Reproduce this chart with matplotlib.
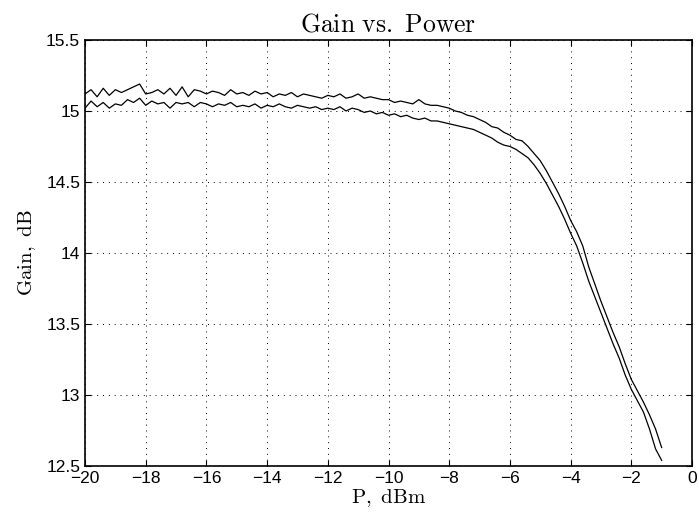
import numpy as np
import matplotlib
matplotlib.use("Agg")
import matplotlib.pyplot as plt

plt.rcParams['mathtext.fontset'] = 'cm'
plt.rcParams['font.family'] = ['Liberation Sans', 'DejaVu Sans']

# gain readings (dB), input power from -20 to -1 dBm in 0.2 dB steps
gain_upper = [15.12, 15.15, 15.10, 15.16, 15.11, 15.15, 15.13, 15.15, 15.17, 15.19,
              15.12, 15.13, 15.15, 15.12, 15.16, 15.11, 15.17, 15.10, 15.15, 15.14,
              15.12, 15.14, 15.13, 15.11, 15.15, 15.12, 15.13, 15.11, 15.14, 15.12,
              15.13, 15.10, 15.12, 15.11, 15.13, 15.10, 15.12, 15.11, 15.10, 15.09,
              15.11, 15.10, 15.12, 15.09, 15.10, 15.12, 15.09, 15.10, 15.09, 15.08,
              15.08, 15.06, 15.07, 15.06, 15.05, 15.08, 15.05, 15.04, 15.04, 15.03,
              15.02, 15.00, 14.99, 14.97, 14.96, 14.94, 14.92, 14.89, 14.88, 14.85,
              14.83, 14.80, 14.79, 14.75, 14.70, 14.65, 14.58, 14.50, 14.42, 14.33,
              14.23, 14.15, 14.05, 13.90, 13.78, 13.66, 13.55, 13.44, 13.34, 13.22,
              13.11, 13.03, 12.95, 12.86, 12.76, 12.63]
gain_lower = [15.02, 15.07, 15.03, 15.06, 15.02, 15.05, 15.04, 15.08, 15.06, 15.09,
              15.04, 15.07, 15.05, 15.06, 15.02, 15.06, 15.05, 15.06, 15.03, 15.06,
              15.05, 15.03, 15.05, 15.04, 15.06, 15.03, 15.04, 15.03, 15.05, 15.02,
              15.04, 15.03, 15.05, 15.03, 15.02, 15.04, 15.03, 15.02, 15.03, 15.01,
              15.02, 15.01, 15.03, 15.00, 15.02, 15.01, 14.99, 15.00, 14.98, 14.99,
              14.97, 14.98, 14.96, 14.97, 14.95, 14.94, 14.95, 14.93, 14.93, 14.92,
              14.91, 14.90, 14.89, 14.88, 14.87, 14.85, 14.83, 14.81, 14.78, 14.76,
              14.75, 14.73, 14.70, 14.67, 14.62, 14.56, 14.49, 14.41, 14.33, 14.24,
              14.14, 14.05, 13.93, 13.80, 13.69, 13.58, 13.47, 13.36, 13.26, 13.14,
              13.04, 12.96, 12.88, 12.76, 12.62, 12.54]
power = np.linspace(-20, -1, len(gain_upper))

xticks = [-20, -18, -16, -14, -12, -10, -8, -6, -4, -2, 0]
yticks = [12.5, 13, 13.5, 14, 14.5, 15, 15.5]

fig = plt.figure(figsize=(6.99, 5.19), dpi=100)
ax = fig.add_axes([85/699, 53/519, 607/699, 426/519])

ax.plot(power, gain_upper, color='k', lw=0.9)
ax.plot(power, gain_lower, color='k', lw=0.9)

ax.set_xlim(-20, 0)
ax.set_ylim(12.5, 15.5)
ax.set_xticks(xticks)
ax.set_yticks(yticks)
ax.set_xticklabels([str(t).replace('-', '\u2212') for t in xticks])
ax.set_yticklabels(['12.5', '13', '13.5', '14', '14.5', '15', '15.5'])
ax.tick_params(direction='in', top=True, right=True, labelsize=12.5, length=4, width=0.8)
ax.grid(True, color='k', linestyle=(0, (1, 5)), linewidth=0.7)
for s in ax.spines.values():
    s.set_linewidth(1.2)

ax.set_title(r'$\mathrm{Gain\ vs.\ Power}$', fontsize=18.5, pad=6)
ax.set_xlabel(r'$\mathrm{P,\ dBm}$', fontsize=15, labelpad=1)
ax.set_ylabel(r'$\mathrm{Gain,\ dB}$', fontsize=15, labelpad=6)

fig.savefig('out.png', dpi=100)
